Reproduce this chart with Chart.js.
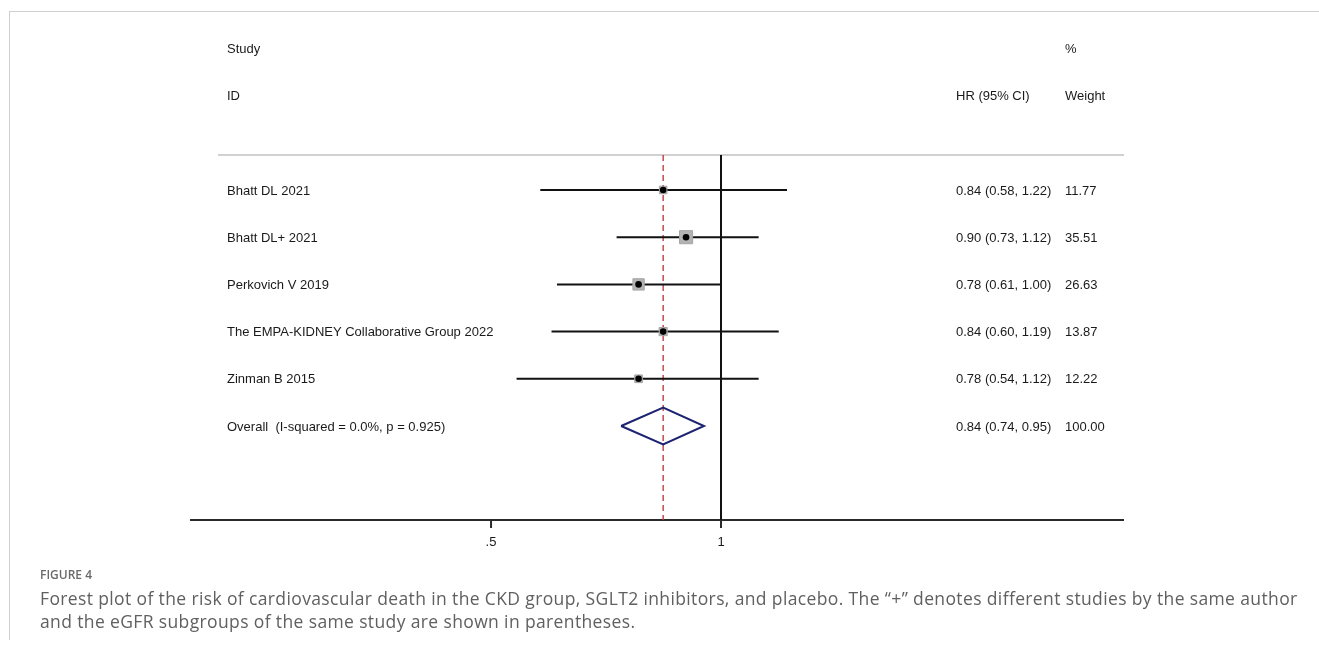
<!DOCTYPE html>
<html>
<head>
<meta charset="utf-8">
<script src="https://cdn.jsdelivr.net/npm/chart.js@4.4.1/dist/chart.umd.min.js"></script>
<style>
  body { margin: 0; background: #fff; }
  #wrap { position: relative; width: 1319px; height: 654px; overflow: hidden; }
  #frame { position: absolute; left: 9px; top: 11px; right: 0; bottom: 14px;
           border-top: 1px solid #cfcfcf; border-left: 1px solid #cfcfcf; }
  canvas { position: absolute; left: 0; top: 0; }
  #caption { position: absolute; left: 40px; top: 566px; font-family: "Open Sans", sans-serif;
             color: #606060; white-space: nowrap; }
  #caption .fig { font-size: 12px; font-weight: 600; color: #6a6a6a; margin-bottom: 4px; }
  #caption .txt { font-size: 17.5px; line-height: 23px; letter-spacing: 0.37px; }
</style>
</head>
<body>
<div id="wrap">
  <div id="frame"></div>
  <canvas id="forest" width="1319" height="654"></canvas>
  <div id="caption">
    <div class="fig">FIGURE 4</div>
    <div class="txt">Forest plot of the risk of cardiovascular death in the CKD group, SGLT2 inhibitors, and placebo. The “+” denotes different studies by the same author<br>and the eGFR subgroups of the same study are shown in parentheses.</div>
  </div>
</div>
<script>
const studies = ["Bhatt DL 2021", "Bhatt DL+ 2021", "Perkovich V 2019", "The EMPA-KIDNEY Collaborative Group 2022", "Zinman B 2015"];
const hr = [0.84, 0.90, 0.78, 0.84, 0.78];
const ciLow = [0.58, 0.73, 0.61, 0.60, 0.54];
const ciHigh = [1.22, 1.12, 1.00, 1.19, 1.12];
const weights = [11.77, 35.51, 26.63, 13.87, 12.22];

const overallLabel = "Overall  (I-squared = 0.0%, p = 0.925)";
const overallHR = 0.84;
const overallLow = 0.74;
const overallHigh = 0.95;
const overallWeight = 100.00;

const headStudy = ["Study", "ID"];
const headHR = ["", "HR (95% CI)"];
const headWeight = ["%", "Weight"];

const xTicks = [0.5, 1];
const xTickLabels = [".5", "1"];

const overallRow = studies.length;
const diamondHalf = 0.39; // half height of the pooled diamond, in rows
const colStudy = 227, colHR = 956, colWeight = 1065;

function fmt(v) { return v.toFixed(2); }
function boxRadius(w) { return 2.2 * Math.sqrt(w) / Math.SQRT2; }

// one dataset per confidence interval
const ciSets = studies.map((s, i) => ({
  type: "line",
  label: s,
  data: [{ x: ciLow[i], y: i }, { x: ciHigh[i], y: i }],
  borderColor: "#111",
  borderWidth: 2,
  pointRadius: 0,
  order: 3
}));

const boxSet = {
  type: "scatter",
  label: "weight",
  data: hr.map((v, i) => ({ x: v, y: i })),
  pointStyle: "rect",
  pointRadius: ctx => boxRadius(weights[ctx.dataIndex]),
  pointHoverRadius: ctx => boxRadius(weights[ctx.dataIndex]),
  backgroundColor: "#b3b3b3",
  borderColor: "#a6a6a6",
  borderWidth: 1,
  order: 2
};

const dotSet = {
  type: "scatter",
  label: "HR",
  data: hr.map((v, i) => ({ x: v, y: i })),
  pointStyle: "circle",
  pointRadius: 3.3,
  backgroundColor: "#000",
  borderWidth: 0,
  order: 1
};

const diamondSet = {
  type: "line",
  label: "Overall",
  data: [
    { x: overallLow, y: overallRow },
    { x: overallHR, y: overallRow - diamondHalf },
    { x: overallHigh, y: overallRow },
    { x: overallHR, y: overallRow + diamondHalf },
    { x: overallLow, y: overallRow }
  ],
  borderColor: "#1c2370",
  borderWidth: 2,
  pointRadius: 0,
  tension: 0,
  fill: false,
  order: 1
};

function hline(ctx, x1, x2, y) { ctx.beginPath(); ctx.moveTo(x1, y); ctx.lineTo(x2, y); ctx.stroke(); }
function vline(ctx, x, y1, y2) { ctx.beginPath(); ctx.moveTo(x, y1); ctx.lineTo(x, y2); ctx.stroke(); }

const forestPlugin = {
  id: "forest",
  beforeDatasetsDraw(chart) {
    const { ctx, chartArea: a, scales: { x } } = chart;
    ctx.save();
    // rule under the header
    ctx.strokeStyle = "#c2c2c2";
    ctx.lineWidth = 1.5;
    hline(ctx, a.left + 28, a.right, a.top);
    // x axis
    ctx.strokeStyle = "#2a2a2a";
    ctx.lineWidth = 2;
    hline(ctx, a.left, a.right, a.bottom);
    xTicks.forEach(t => vline(ctx, x.getPixelForValue(t), a.bottom, a.bottom + 8));
    // null line
    ctx.strokeStyle = "#111";
    vline(ctx, x.getPixelForValue(1), a.top, a.bottom);
    // pooled estimate line
    ctx.strokeStyle = "#c0403f";
    ctx.lineWidth = 1.4;
    ctx.setLineDash([6, 4]);
    vline(ctx, x.getPixelForValue(overallHR), a.top, a.bottom);
    ctx.restore();
  },
  afterDatasetsDraw(chart) {
    const { ctx, chartArea: a, scales: { x, y } } = chart;
    ctx.save();
    ctx.fillStyle = "#1a1a1a";
    ctx.font = '13px "Liberation Sans", Arial, sans-serif';
    ctx.textBaseline = "middle";
    ctx.textAlign = "left";
    headStudy.forEach((t, k) => {
      const py = y.getPixelForValue(k - 3) + 1;
      ctx.fillText(t, colStudy, py);
      ctx.fillText(headHR[k], colHR, py);
      ctx.fillText(headWeight[k], colWeight, py);
    });
    studies.forEach((s, i) => {
      const py = y.getPixelForValue(i) + 1;
      ctx.fillText(s, colStudy, py);
      ctx.fillText(`${fmt(hr[i])} (${fmt(ciLow[i])}, ${fmt(ciHigh[i])})`, colHR, py);
      ctx.fillText(fmt(weights[i]), colWeight, py);
    });
    const po = y.getPixelForValue(overallRow) + 1;
    ctx.fillText(overallLabel, colStudy, po);
    ctx.fillText(`${fmt(overallHR)} (${fmt(overallLow)}, ${fmt(overallHigh)})`, colHR, po);
    ctx.fillText(fmt(overallWeight), colWeight, po);
    // tick labels
    ctx.textAlign = "center";
    xTicks.forEach((t, k) => ctx.fillText(xTickLabels[k], x.getPixelForValue(t), a.bottom + 22));
    ctx.restore();
  }
};

new Chart(document.getElementById("forest"), {
  data: { datasets: [...ciSets, boxSet, dotSet, diamondSet] },
  options: {
    responsive: false,
    animation: false,
    events: [],
    layout: { padding: { left: 190, right: 195, top: 155, bottom: 134 } },
    plugins: { legend: { display: false }, tooltip: { enabled: false } },
    elements: { line: { borderCapStyle: "butt" } },
    scales: {
      x: { type: "logarithmic", min: 0.2018, max: 3.369, display: false },
      y: { type: "linear", min: -0.7415, max: 6.992, reverse: true, display: false }
    }
  },
  plugins: [forestPlugin]
});
</script>
</body>
</html>
